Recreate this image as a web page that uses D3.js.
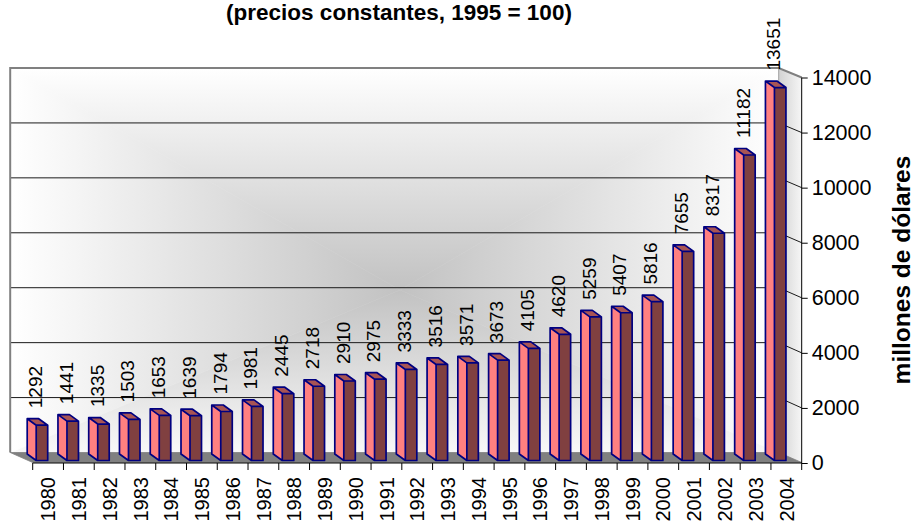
<!DOCTYPE html>
<html>
<head>
<meta charset="utf-8">
<script src="https://cdn.jsdelivr.net/npm/d3@7"></script>
<style>
  html, body { margin: 0; padding: 0; background: #ffffff; }
  svg { display: block; font-family: "Liberation Sans", Arial, sans-serif; }
</style>
</head>
<body>
<svg id="chart" width="916" height="521"></svg>
<script>
// ---- data ----
const years = ["1980","1981","1982","1983","1984","1985","1986","1987","1988","1989",
               "1990","1991","1992","1993","1994","1995","1996","1997","1998","1999",
               "2000","2001","2002","2003","2004"];
const values = [1292,1441,1335,1503,1653,1639,1794,1981,2445,2718,
                2910,2975,3333,3516,3571,3673,4105,4620,5259,5407,
                5816,7655,8317,11182,13651];
const yTicks = [0,2000,4000,6000,8000,10000,12000,14000];
const titleText = "(precios constantes, 1995 = 100)";
const yTitleText = "millones de dólares";

// ---- layout ----
const svg = d3.select("#chart");
const x = d3.scaleBand().domain(years).range([32.7, 801.7]).padding(0);
const bw = x.bandwidth();
const yFront = d3.scaleLinear().domain([0, 14000]).range([463, 77.5]);
const yBack  = d3.scaleLinear().domain([0, 14000]).range([452.5, 68]);
const yBar   = d3.scaleLinear().domain([0, 14000]).range([460.5, 78]);
const DX = -22.5;              // depth offset of the back wall
const bx0 = x.range()[0] + DX, bx1 = x.range()[1] + DX - 0.5;
const by0 = yBack(14000), by1 = yBack(0);
const cx = 400, cy = 290;      // centre of the wall shading

const defs = svg.append("defs");
function lin(id, x1, y1, x2, y2, c1, c2) {
  const g = defs.append("linearGradient").attr("id", id)
    .attr("gradientUnits", "userSpaceOnUse")
    .attr("x1", x1).attr("y1", y1).attr("x2", x2).attr("y2", y2);
  g.append("stop").attr("offset", 0).attr("stop-color", c1);
  g.append("stop").attr("offset", 1).attr("stop-color", c2);
}
const edgeC = "#ffffff", midC = "#c2c2c2";
lin("gTop", 0, by0, 0, cy, edgeC, midC);
lin("gBot", 0, by1, 0, cy, "#f8f8f8", midC);
lin("gLeft", bx0, 0, cx, 0, edgeC, midC);
lin("gRight", bx1, 0, cx, 0, edgeC, midC);
lin("gSide", bx1, 0, x.range()[1], 0, "#d2d2d2", "#f6f6f6");

// back wall (rectangular gradient from centre)
const wall = svg.append("g");
const tri = [
  {pts: [[bx0,by0],[bx1,by0],[cx,cy]], f: "url(#gTop)"},
  {pts: [[bx0,by1],[bx1,by1],[cx,cy]], f: "url(#gBot)"},
  {pts: [[bx0,by0],[bx0,by1],[cx,cy]], f: "url(#gLeft)"},
  {pts: [[bx1,by0],[bx1,by1],[cx,cy]], f: "url(#gRight)"}
];
wall.selectAll("path").data(tri).join("path")
  .attr("d", d => "M" + d.pts.map(p => p.join(",")).join("L") + "Z")
  .attr("fill", d => d.f).attr("stroke", d => d.f).attr("stroke-width", 0.6);

// right side wall
const fx1 = x.range()[1];
svg.append("path")
  .attr("d", `M${bx1},${by0}L${fx1},${yFront(14000)}L${fx1},${yFront(0)}L${bx1},${by1}Z`)
  .attr("fill", "url(#gSide)");

// gridlines (back wall + side wall)
const grid = svg.append("g");
yTicks.filter(t => t > 0 && t < 14000).forEach(t => {
  grid.append("line").attr("x1", bx0).attr("x2", bx1)
    .attr("y1", yBack(t)).attr("y2", yBack(t))
    .attr("stroke", "#1a1a1a").attr("stroke-width", 1);
  grid.append("line").attr("x1", bx1).attr("x2", fx1)
    .attr("y1", yBack(t)).attr("y2", yFront(t))
    .attr("stroke", "#1a1a1a").attr("stroke-width", 1);
});

// wall border
svg.append("path")
  .attr("d", `M${bx0},${by1}L${bx0},${by0}L${bx1},${by0}L${fx1},${yFront(14000)}`)
  .attr("fill", "none").attr("stroke", "#808080").attr("stroke-width", 2);
svg.append("line").attr("x1", bx1).attr("x2", bx1).attr("y1", by0).attr("y2", by1)
  .attr("stroke", "#a0a0a0").attr("stroke-width", 1);

// floor
svg.append("path")
  .attr("d", `M${bx0},${by1}L${bx1},${by1}L${fx1},${yFront(0) - 0.5}L${x.range()[0]},${yFront(0) - 0.5}Z`)
  .attr("fill", "#808080").attr("stroke", "#808080").attr("stroke-width", 0.8);

// bars
const bdx = -9, bdy = -6.5;
const fw0 = 3.5, fw1 = 15;
const bars = svg.append("g").selectAll("g").data(values).join("g");
bars.each(function(v, i) {
  const g = d3.select(this);
  const xl = x(years[i]) + fw0, xr = x(years[i]) + fw1;
  const yt = yBar(v), yb = yBar(0);
  g.append("path")
    .attr("d", `M${xl},${yb}L${xl + bdx},${yb + bdy}L${xl + bdx},${yt + bdy}L${xl},${yt}Z`)
    .attr("fill", "#ff8080");
  g.append("path")
    .attr("d", `M${xl},${yt}L${xr},${yt}L${xr + bdx},${yt + bdy}L${xl + bdx},${yt + bdy}Z`)
    .attr("fill", "#a85454");
  g.append("rect").attr("x", xl).attr("y", yt).attr("width", xr - xl).attr("height", yb - yt)
    .attr("fill", "#804040");
  g.append("path")
    .attr("d", `M${xl},${yb}L${xl + bdx},${yb + bdy}L${xl + bdx},${yt + bdy}L${xr + bdx},${yt + bdy}L${xr},${yt}L${xr},${yb}Z` +
               `M${xl + bdx},${yt + bdy}L${xl},${yt}L${xr},${yt}M${xl},${yt}L${xl},${yb}`)
    .attr("fill", "none").attr("stroke", "#000080").attr("stroke-width", 1.7)
    .attr("stroke-linejoin", "round");
});

// value labels
svg.append("g").selectAll("text").data(values).join("text")
  .attr("transform", (v, i) => `translate(${x(years[i]) + 2.5},${yBar(v) - 17}) rotate(-90)`)
  .attr("dy", "0.36em").attr("text-anchor", "start")
  .attr("font-size", "19px").attr("fill", "#000")
  .text(v => v);

// category axis
const fy0 = yFront(0);
svg.append("line").attr("x1", x.range()[0]).attr("x2", fx1).attr("y1", fy0).attr("y2", fy0)
  .attr("stroke", "#000").attr("stroke-width", 1);
const tickXs = years.map(y => x(y)).concat([x.range()[1]]);
svg.append("g").selectAll("line").data(tickXs).join("line")
  .attr("x1", d => d).attr("x2", d => d).attr("y1", fy0).attr("y2", fy0 + 7)
  .attr("stroke", "#000").attr("stroke-width", 1);
svg.append("g").selectAll("text").data(years).join("text")
  .attr("transform", d => `translate(${x(d) + bw / 2},${fy0 + 14}) rotate(-90)`)
  .attr("dy", "0.36em").attr("text-anchor", "end")
  .attr("font-size", "20px").attr("fill", "#000")
  .text(d => d);

// value axis (right)
const yAxis = d3.axisRight(yFront).tickValues(yTicks).tickSize(6).tickPadding(4)
  .tickFormat(d3.format("d"));
const ya = svg.append("g").attr("transform", `translate(${fx1},0)`).call(yAxis);
ya.select(".domain").attr("stroke", "#000").attr("d", `M0,${yFront(14000)}V${yFront(0)}`);
ya.selectAll(".tick line").attr("stroke", "#000");
ya.selectAll(".tick text").attr("font-size", "21.5px").attr("fill", "#000")
  .attr("font-family", "'Liberation Sans', Arial, sans-serif");

// titles
svg.append("text").attr("x", 399).attr("y", 20).attr("text-anchor", "middle")
  .attr("font-size", "22.5px").attr("font-weight", "bold").text(titleText);
svg.append("text").attr("transform", "translate(901,270) rotate(-90)")
  .attr("text-anchor", "middle").attr("dy", "0.36em")
  .attr("font-size", "24.5px").attr("font-weight", "bold").text(yTitleText);
</script>
</body>
</html>
